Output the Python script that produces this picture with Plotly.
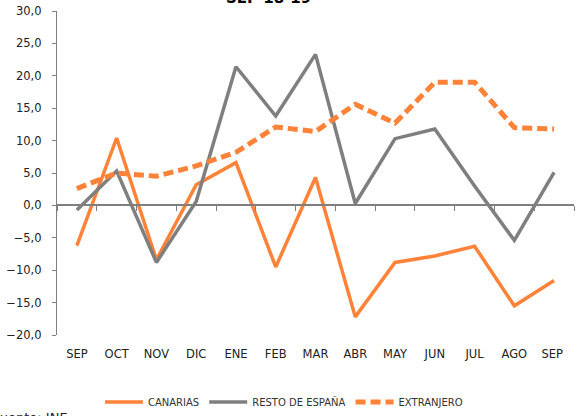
import plotly.graph_objects as go

months = ["SEP", "OCT", "NOV", "DIC", "ENE", "FEB", "MAR", "ABR", "MAY", "JUN", "JUL", "AGO", "SEP "]
canarias = [-6.2, 10.4, -8.4, 3.2, 6.6, -9.5, 4.3, -17.2, -8.8, -7.8, -6.3, -15.5, -11.6]
resto_espana = [-0.7, 5.3, -8.8, 0.6, 21.4, 13.8, 23.3, 0.3, 10.3, 11.8, 3.0, -5.4, 5.1]
extranjero = [2.6, 5.0, 4.5, 6.1, 8.2, 12.1, 11.4, 15.6, 12.7, 19.0, 19.0, 12.0, 11.8]
ytick_vals = [-20, -15, -10, -5, 0, 5, 10, 15, 20, 25, 30]

ORANGE = "#FF8239"
GRAY = "#7F7F7F"
FONT = "DejaVu Sans"

fig = go.Figure()
fig.add_trace(go.Scatter(x=months, y=canarias, mode="lines", name="CANARIAS",
                         line=dict(color=ORANGE, width=3.5)))
fig.add_trace(go.Scatter(x=months, y=resto_espana, mode="lines", name="RESTO DE ESPAÑA",
                         line=dict(color=GRAY, width=3.5)))
fig.add_trace(go.Scatter(x=months, y=extranjero, mode="lines", name="EXTRANJERO",
                         line=dict(color=ORANGE, width=5, dash="10px,5px")))
# invisible helper trace for the axis drawn at y = 0
fig.add_trace(go.Scatter(x=months, y=[None] * len(months), xaxis="x2", mode="lines",
                         showlegend=False, hoverinfo="skip"))

fig.update_layout(
    width=579, height=416,
    margin=dict(l=57, r=5, t=11, b=81, autoexpand=False),
    paper_bgcolor="white", plot_bgcolor="white",
    separators=",.",
    font=dict(family=FONT, size=11, color="#222222"),
    showlegend=True,
    legend=dict(orientation="h", x=0.439, xanchor="center",
                y=-0.207, yanchor="middle", font=dict(size=10, color="#333333"),
                bgcolor="rgba(0,0,0,0)", itemwidth=38),
    xaxis=dict(type="category", categoryorder="array", categoryarray=months,
               range=[-0.5, 12.5], showline=False, showgrid=False, zeroline=False,
               ticks="", ticklabelstandoff=10, tickangle=0, automargin=False,
               tickfont=dict(size=11.5)),
    xaxis2=dict(type="category", categoryorder="array", categoryarray=months,
                range=[-0.5, 12.5], overlaying="x", anchor="free", position=0.4,
                side="bottom", showline=True, linecolor=GRAY, linewidth=1.5,
                ticks="outside", tickson="boundaries", ticklen=5, tickcolor=GRAY,
                tickwidth=1, showticklabels=False, showgrid=False, zeroline=False,
                automargin=False),
    yaxis=dict(range=[-20, 30], tickvals=ytick_vals, tickformat=".1f",
               showline=True, linecolor=GRAY, linewidth=1.2, ticks="outside",
               ticklen=4, tickcolor=GRAY, showgrid=False, zeroline=False,
               ticklabelstandoff=8, automargin=False, tickfont=dict(size=11.5)),
)

fig.add_annotation(text="<b>SEP 18-19</b>", xref="paper", yref="paper",
                   x=0.41, y=1.041, xanchor="center", yanchor="middle",
                   showarrow=False, font=dict(size=15, color="#000000"))
fig.add_annotation(text="Fuente: INE", xref="paper", yref="paper",
                   x=-0.127, y=-0.255, xanchor="left", yanchor="middle",
                   showarrow=False, font=dict(size=13, color="#222222"))

fig.write_html("out.html", config={"displayModeBar": False},
               post_script="document.body.style.margin='0';")
